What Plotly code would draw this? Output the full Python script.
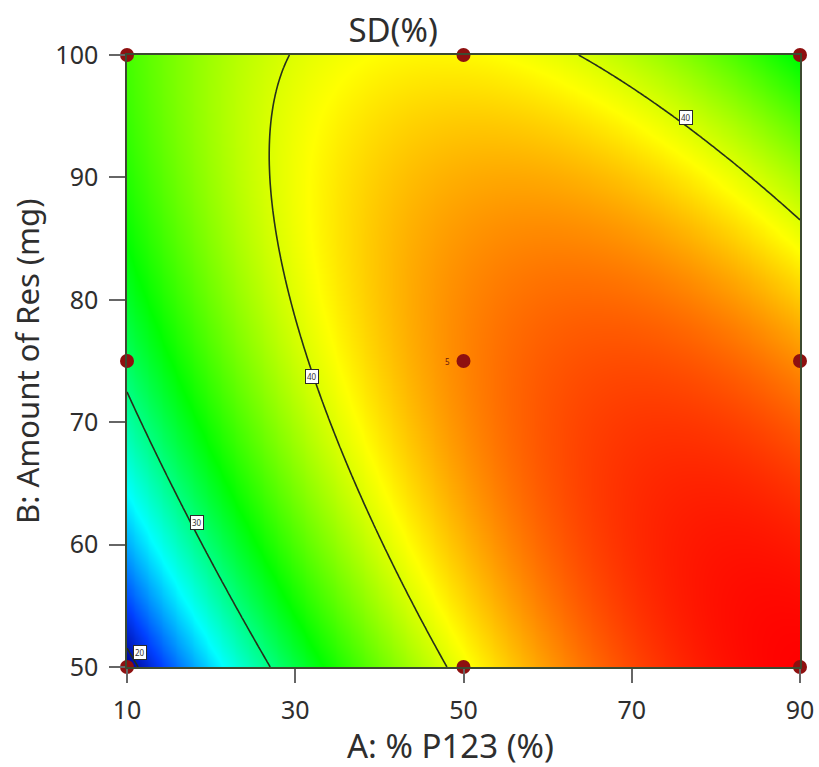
import numpy as np
import plotly.graph_objects as go

# Factor ranges (actual units)
a_low, a_high = 10, 90        # A: % P123
b_low, b_high = 50, 100       # B: Amount of Res (mg)

# Quadratic response-surface model for SD (%) in coded factors
# SD = b0 + b1*A + b2*B + b12*A*B + b11*A^2 + b22*B^2
b0 = 44.59
b1 = 6.725
b2 = 0.25
b12 = -7.95
b11 = -7.0
b22 = -3.6

# Design points (3x3 face-centred layout, centre point replicated)
design_a = [10, 10, 10, 50, 50, 50, 90, 90, 90]
design_b = [50, 75, 100, 50, 75, 100, 50, 75, 100]
centre_reps = "5"

# Contour levels and where their labels sit
levels = [20, 30, 40]
label_text = ["20", "30", "40", "40"]
label_a = [11.6, 18.3, 32.0, 76.5]
label_b = [51.2, 61.8, 73.7, 94.9]

x_ticks = [10, 30, 50, 70, 90]
y_ticks = [50, 60, 70, 80, 90, 100]


def coded(v, lo, hi):
    return (v - (lo + hi) / 2) / ((hi - lo) / 2)


a_grid = np.linspace(a_low, a_high, 241)
b_grid = np.linspace(b_low, b_high, 151)
AA, BB = np.meshgrid(a_grid, b_grid)
xa = coded(AA, a_low, a_high)
xb = coded(BB, b_low, b_high)
Z = b0 + b1 * xa + b2 * xb + b12 * xa * xb + b11 * xa ** 2 + b22 * xb ** 2

colorscale = [
    [0.00, "#00008c"],
    [0.10, "#0040ff"],
    [0.26, "#00ffff"],
    [0.49, "#00ff00"],
    [0.75, "#ffff00"],
    [1.00, "#ff0000"],
]

font_family = "Noto Sans, Open Sans, DejaVu Sans, sans-serif"
text_color = "#2e2e2e"

fig = go.Figure()

fig.add_trace(go.Heatmap(
    x=a_grid, y=b_grid, z=Z,
    colorscale=colorscale,
    zmin=float(Z.min()), zmax=float(Z.max()),
    zsmooth="best",
    showscale=False,
    hoverinfo="skip",
))

fig.add_trace(go.Contour(
    x=a_grid, y=b_grid, z=Z,
    contours=dict(start=levels[0], end=levels[-1], size=levels[1] - levels[0],
                  coloring="none"),
    line=dict(color="#26301a", width=1.6),
    showscale=False,
    hoverinfo="skip",
))

fig.add_trace(go.Scatter(
    x=design_a, y=design_b,
    mode="markers",
    marker=dict(color="#8e1010", size=14),
    cliponaxis=False,
    hoverinfo="skip",
))

annotations = []
for t, xa_, yb_ in zip(label_text, label_a, label_b):
    annotations.append(dict(
        x=xa_, y=yb_, xref="x", yref="y", text=t, showarrow=False,
        font=dict(size=8, color="#333333", family=font_family),
        bgcolor="white", bordercolor="#2a2a2a", borderwidth=1, borderpad=1,
    ))

annotations.append(dict(
    x=50, y=75, xref="x", yref="y", text=centre_reps, showarrow=False,
    xshift=-16, font=dict(size=8, color="#6a1a10", family=font_family),
))

# Axis titles
annotations.append(dict(
    text="A: % P123 (%)", xref="paper", yref="paper", x=0.48, y=-0.1275,
    xanchor="center", yanchor="middle", showarrow=False,
    font=dict(size=33, color=text_color, family=font_family),
))
annotations.append(dict(
    text="B: Amount of Res (mg)", xref="paper", yref="paper", x=-0.1486, y=0.5,
    xanchor="center", yanchor="middle", textangle=-90, showarrow=False,
    font=dict(size=31, color=text_color, family=font_family),
))

fig.update_layout(
    template="none",
    width=819, height=767,
    margin=dict(l=127, r=19, t=55, b=100, autoexpand=False),
    paper_bgcolor="white", plot_bgcolor="white",
    showlegend=False,
    font=dict(family=font_family, color=text_color),
    title=dict(text="SD(%)", x=0.48, xref="container", xanchor="center",
               y=1 - 30 / 767, yref="container", yanchor="middle",
               font=dict(size=33, color=text_color, family=font_family)),
    annotations=annotations,
)

fig.update_xaxes(
    range=[a_low, a_high], tickvals=x_ticks, ticktext=[str(v) for v in x_ticks],
    ticks="outside", ticklen=14, tickwidth=1.5, tickcolor="#666666",
    ticklabelstandoff=6,
    tickfont=dict(size=25, color=text_color),
    showline=True, linecolor="#3c4a30", linewidth=1.5, mirror=True,
    showgrid=False, zeroline=False, automargin=False,
)
fig.update_yaxes(
    range=[b_low, b_high], tickvals=y_ticks, ticktext=[str(v) for v in y_ticks],
    ticks="outside", ticklen=16, tickwidth=1.5, tickcolor="#666666",
    ticklabelstandoff=6,
    tickfont=dict(size=25, color=text_color),
    showline=True, linecolor="#3c4a30", linewidth=1.5, mirror=True,
    showgrid=False, zeroline=False, automargin=False,
)

fig.write_html("out.html")
